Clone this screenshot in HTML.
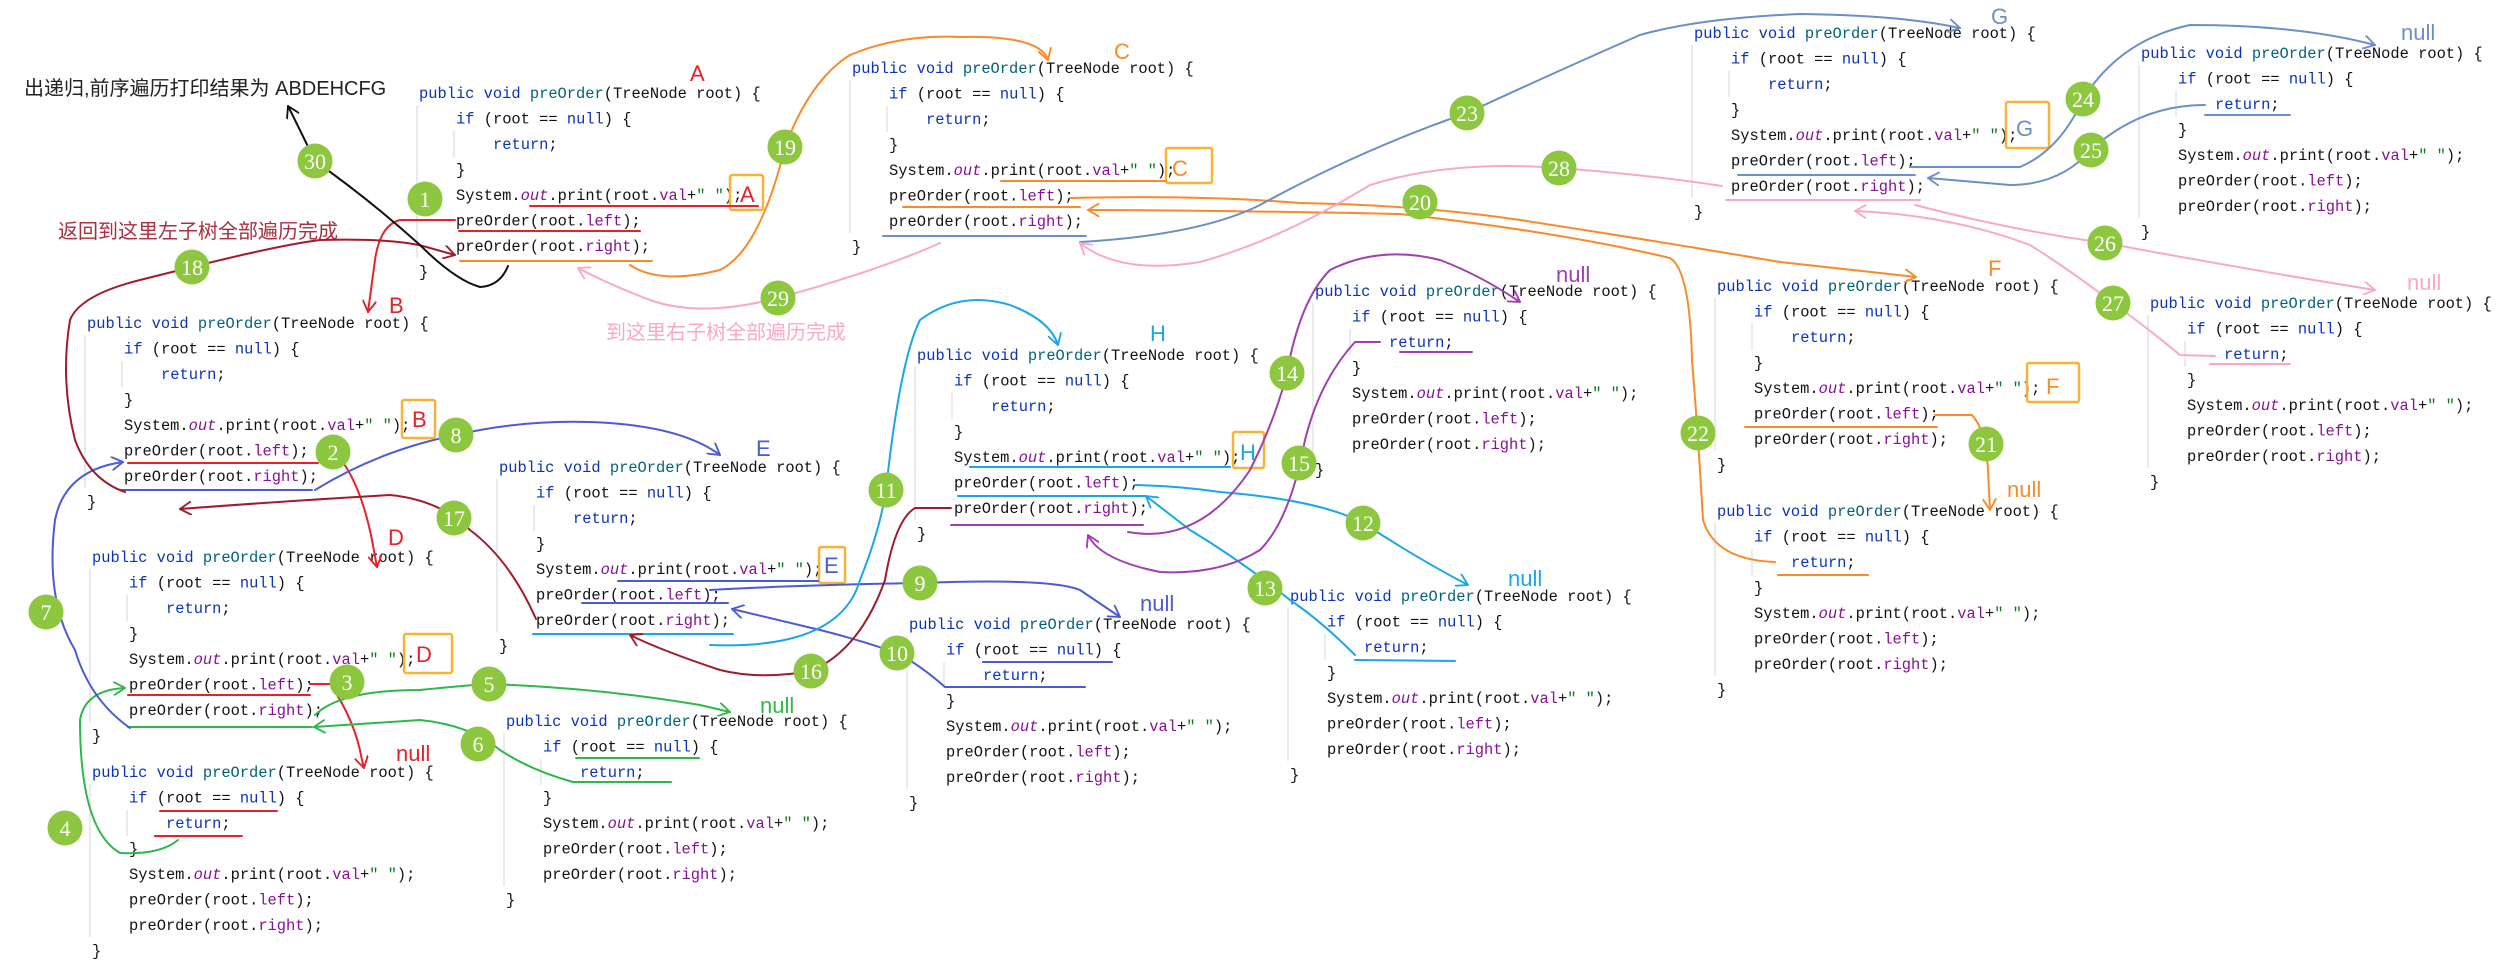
<!DOCTYPE html>
<html><head><meta charset="utf-8"><style>
html,body{margin:0;padding:0;background:#fff;}
svg{display:block;}
.c{font-family:"Liberation Mono",monospace;font-size:15.4px;fill:#111;}
.k{fill:#0b33b8;}.m{fill:#00627a;}.p{fill:#871094;}.o{fill:#871094;font-style:italic;}.g{fill:#067d17;}
.lb{font-family:"Liberation Sans",sans-serif;font-size:22px;}
.cj{font-family:"Liberation Sans","Noto Sans CJK SC",sans-serif;font-size:20px;}
.n{font-family:"Liberation Serif",serif;font-size:22px;fill:#fff;text-anchor:middle;}
.gd{stroke:#e4e4e4;stroke-width:1.5;}
path,polyline{fill:none;stroke-width:2;stroke-linecap:round;stroke-linejoin:round;}
</style></head><body>
<svg width="2510" height="969" viewBox="0 0 2510 969" xmlns="http://www.w3.org/2000/svg">
<defs>
<g id="blk">
<line class="gd" x1="-2" y1="12" x2="-2" y2="165"/>
<line class="gd" x1="35" y1="38" x2="35" y2="64"/>
<text class="c" y="5"><tspan class="k">public void </tspan><tspan class="m">preOrder</tspan>(TreeNode root) {</text>
<text class="c" x="37" y="30.5"><tspan class="k">if</tspan> (root == <tspan class="k">null</tspan>) {</text>
<text class="c" x="74" y="56"><tspan class="k">return</tspan>;</text>
<text class="c" x="37" y="81.5">}</text>
<text class="c" x="37" y="107">System.<tspan class="o">out</tspan>.print(root.<tspan class="p">val</tspan>+<tspan class="g">" "</tspan>);</text>
<text class="c" x="37" y="132.5">preOrder(root.<tspan class="p">left</tspan>);</text>
<text class="c" x="37" y="158">preOrder(root.<tspan class="p">right</tspan>);</text>
<text class="c" y="183.5">}</text>
</g>
<marker id="ar" viewBox="0 0 12 12" refX="10" refY="6" markerWidth="14" markerHeight="14" markerUnits="userSpaceOnUse" orient="auto"><path d="M0,0 L10,6 L0,12" stroke="context-stroke" style="stroke-width:1.6"/></marker>
</defs>

<use href="#blk" x="419" y="93"/>
<use href="#blk" x="87" y="323"/>
<use href="#blk" x="92" y="557"/>
<use href="#blk" x="92" y="772"/>
<use href="#blk" x="499" y="467"/>
<use href="#blk" x="506" y="721"/>
<use href="#blk" x="852" y="68"/>
<use href="#blk" x="917" y="355"/>
<use href="#blk" x="1315" y="291"/>
<use href="#blk" x="909" y="624"/>
<use href="#blk" x="1290" y="596"/>
<use href="#blk" x="1694" y="33"/>
<use href="#blk" x="2141" y="53"/>
<use href="#blk" x="1717" y="286"/>
<use href="#blk" x="2150" y="303"/>
<use href="#blk" x="1717" y="511"/>

<g fill="none" stroke="#f9b234" stroke-width="2.5">
<rect x="730" y="175" width="33" height="35" rx="2"/>
<rect x="402" y="400" width="33" height="38" rx="2"/>
<rect x="404" y="634" width="48" height="39" rx="2"/>
<rect x="819" y="547" width="26" height="36" rx="2"/>
<rect x="1166" y="148" width="46" height="35" rx="2"/>
<rect x="1233" y="432" width="31" height="36" rx="2"/>
<rect x="2006" y="102" width="43" height="46" rx="2"/>
<rect x="2027" y="363" width="52" height="39" rx="2"/>
</g>
<text class="lb" x="740" y="202" fill="#e8202a">A</text>
<text class="lb" x="412" y="427" fill="#e8202a">B</text>
<text class="lb" x="416" y="662" fill="#e8202a">D</text>
<text class="lb" x="824" y="573" fill="#4b5bd6">E</text>
<text class="lb" x="1172" y="176" fill="#f98a2a">C</text>
<text class="lb" x="1240" y="460" fill="#1aa7e8">H</text>
<text class="lb" x="2016" y="136" fill="#6b8fc8">G</text>
<text class="lb" x="2046" y="394" fill="#f98a2a">F</text>

<text class="lb" x="690" y="81" fill="#e8202a">A</text>
<text class="lb" x="389" y="313" fill="#e8202a">B</text>
<text class="lb" x="388" y="545" fill="#e8202a">D</text>
<text class="lb" x="396" y="761" fill="#e8202a">null</text>
<text class="lb" x="756" y="456" fill="#4b5bd6">E</text>
<text class="lb" x="760" y="713" fill="#2db84b">null</text>
<text class="lb" x="1114" y="59" fill="#f98a2a">C</text>
<text class="lb" x="1150" y="341" fill="#1aa7e8">H</text>
<text class="lb" x="1556" y="282" fill="#a040b0">null</text>
<text class="lb" x="1140" y="611" fill="#4b5bd6">null</text>
<text class="lb" x="1508" y="586" fill="#1aa7e8">null</text>
<text class="lb" x="1991" y="24" fill="#6b8fc8">G</text>
<text class="lb" x="2401" y="40" fill="#6b8fc8">null</text>
<text class="lb" x="1988" y="276" fill="#f98a2a">F</text>
<text class="lb" x="2407" y="290" fill="#f9a8c8">null</text>
<text class="lb" x="2007" y="497" fill="#f98a2a">null</text>
<text class="cj" x="24" y="95" fill="#222">出递归,前序遍历打印结果为 ABDEHCFG</text>
<text class="cj" x="58" y="238" fill="#a83040">返回到这里左子树全部遍历完成</text>
<text class="cj" x="606" y="339" fill="#f9a8c8">到这里右子树全部遍历完成</text>

<g stroke="#e8202a">
<path d="M530,206 L758,206"/><path d="M459,231 L640,231"/>
<path d="M455,220 L400,220 Q380,225 375,260 L368,312" marker-end="url(#ar)"/>
<path d="M128,463 L318,463"/>
<path d="M318,452 L335,452 Q360,480 372,540 L377,567" marker-end="url(#ar)"/>
<path d="M128,695 L310,695"/>
<path d="M310,684 L330,684 Q355,720 362,760 L364,768" marker-end="url(#ar)"/>
<path d="M160,811 L277,811"/><path d="M155,836 L242,836"/>
</g>
<g stroke="#2db84b">
<path d="M178,840 Q160,855 120,853 Q80,830 80,720 Q85,690 125,688" marker-end="url(#ar)"/>
<path d="M315,715 Q340,690 420,690 Q470,685 489,684 Q600,688 700,705 L730,712" marker-end="url(#ar)"/>
<path d="M573,782 Q530,770 500,750 Q470,725 420,720 L314,727" marker-end="url(#ar)"/>
<path d="M128,727 L312,727"/>
<path d="M576,758 L699,758"/>
<path d="M573,782 L671,782"/>
</g>
<g stroke="#4b5bd6">
<path d="M120,490 L312,490"/>
<path d="M130,728 Q90,700 75,650 Q45,600 55,520 Q65,470 123,462" marker-end="url(#ar)"/>
<path d="M315,490 Q380,450 456,435 Q520,420 590,422 Q680,425 720,455" marker-end="url(#ar)"/>
<path d="M618,581 L818,581"/><path d="M582,603 L728,603"/>
<path d="M710,590 Q800,585 920,583 Q1050,578 1080,590 L1120,617" marker-end="url(#ar)"/>
<path d="M972,687 L945,687 Q920,665 897,653 Q860,640 820,630 L732,609" marker-end="url(#ar)"/>
<path d="M983,662 L1112,662"/><path d="M972,687 L1085,687"/>
</g>
<g stroke="#1aa7e8">
<path d="M533,634 L733,634"/>
<path d="M710,645 Q840,650 860,580 Q880,530 886,490 Q900,360 920,320 Q960,290 1010,305 Q1050,320 1058,345" marker-end="url(#ar)"/>
<path d="M970,467 L1230,467"/><path d="M958,496 L1145,496"/>
<path d="M1135,485 Q1180,486 1220,492 Q1320,500 1363,523 Q1420,560 1468,585" marker-end="url(#ar)"/>
<path d="M1355,660 L1455,661"/>
<path d="M1355,655 Q1320,620 1290,600 Q1240,560 1190,530 L1146,496" marker-end="url(#ar)"/>
</g>
<g stroke="#a040b0">
<path d="M951,525 L1143,525"/>
<path d="M1128,532 Q1200,545 1250,470 Q1275,420 1287,373 Q1300,300 1330,270 Q1380,245 1440,260 Q1480,275 1520,302" marker-end="url(#ar)"/>
<path d="M1400,352 L1472,352"/>
<path d="M1380,342 L1355,342 Q1320,380 1305,440 Q1290,520 1260,550 Q1220,575 1160,572 Q1100,560 1088,535" marker-end="url(#ar)"/>
</g>
<g stroke="#a01c2c">
<path d="M951,508 L915,508 Q895,520 885,580 Q860,650 811,671 Q760,680 720,670 Q660,650 630,635" marker-end="url(#ar)"/>
<path d="M536,619 Q510,560 470,530 Q440,500 390,495 Q300,500 180,509" marker-end="url(#ar)"/>
<path d="M125,492 Q90,480 75,440 Q60,380 70,320 Q80,295 140,280 L192,267 Q280,245 320,240 Q400,238 430,248 L455,255" marker-end="url(#ar)"/>
</g>
<g stroke="#f98a2a">
<path d="M460,261 L652,261"/>
<path d="M630,265 Q660,285 720,270 Q760,250 785,147 Q810,80 850,55 Q900,34 960,37 Q1040,35 1048,60" marker-end="url(#ar)"/>
<path d="M1001,181 L1166,181"/><path d="M903,207 L1080,207"/>
<path d="M1070,198 Q1200,195 1300,203 Q1420,205 1520,220 Q1650,240 1780,262 L1916,277" marker-end="url(#ar)"/>
<path d="M1400,214 Q1200,210 1088,210" marker-end="url(#ar)"/>
<path d="M1400,214 Q1560,232 1670,258 Q1690,270 1692,360 Q1698,433 1703,520 Q1715,560 1775,562"/>
<path d="M1745,427 L1937,427"/>
<path d="M1935,415 L1972,415 Q1986,430 1988,470 L1990,510" marker-end="url(#ar)"/>
<path d="M1778,575 L1868,575"/>
</g>
<g stroke="#6b8fc8">
<path d="M883,236 L1086,236"/>
<path d="M1080,242 Q1200,235 1260,205 Q1360,150 1467,113 Q1560,70 1640,35 Q1700,18 1800,14 Q1900,15 1960,28" marker-end="url(#ar)"/>
<path d="M1738,175 L1915,175"/>
<path d="M1910,167 L2020,167 Q2060,150 2083,99 Q2120,40 2190,25 Q2300,25 2375,45" marker-end="url(#ar)"/>
<path d="M2205,105 Q2140,105 2091,150 Q2060,185 2010,185 L1928,178" marker-end="url(#ar)"/>
<path d="M2205,115 L2290,115"/>
</g>
<g stroke="#f9a8c8">
<path d="M1726,200 L1920,200"/>
<path d="M1915,205 Q2010,230 2105,243 Q2250,270 2375,290" marker-end="url(#ar)"/>
<path d="M2215,356 L2180,355 Q2150,330 2113,303 Q2070,270 2030,245 Q1950,215 1855,211" marker-end="url(#ar)"/>
<path d="M2210,364 L2290,364"/>
<path d="M1722,186 Q1650,175 1559,168 Q1450,160 1370,185 Q1280,240 1200,262 Q1120,275 1080,243" marker-end="url(#ar)"/>
<path d="M940,243 Q880,270 778,298 Q700,318 650,300 Q610,285 578,268" marker-end="url(#ar)"/>
</g>
<path stroke="#111" d="M508,266 Q500,286 480,287 Q455,280 420,245 Q370,200 315,161 Q300,130 288,106" marker-end="url(#ar)"/>

<g fill="#8dc63f">
<circle cx="425" cy="199" r="17.5"/><circle cx="333" cy="452" r="17.5"/><circle cx="347" cy="682" r="17.5"/>
<circle cx="65" cy="828" r="17.5"/><circle cx="489" cy="684" r="17.5"/><circle cx="478" cy="744" r="17.5"/>
<circle cx="46" cy="612" r="17.5"/><circle cx="456" cy="435" r="17.5"/><circle cx="920" cy="583" r="17.5"/>
<circle cx="897" cy="653" r="17.5"/><circle cx="886" cy="490" r="17.5"/><circle cx="1363" cy="523" r="17.5"/>
<circle cx="1265" cy="588" r="17.5"/><circle cx="1287" cy="373" r="17.5"/><circle cx="1299" cy="463" r="17.5"/>
<circle cx="811" cy="671" r="17.5"/><circle cx="454" cy="518" r="17.5"/><circle cx="192" cy="267" r="17.5"/>
<circle cx="785" cy="147" r="17.5"/><circle cx="1420" cy="202" r="17.5"/><circle cx="1986" cy="444" r="17.5"/>
<circle cx="1698" cy="433" r="17.5"/><circle cx="1467" cy="113" r="17.5"/><circle cx="2083" cy="99" r="17.5"/>
<circle cx="2091" cy="150" r="17.5"/><circle cx="2105" cy="243" r="17.5"/><circle cx="2113" cy="303" r="17.5"/>
<circle cx="1559" cy="168" r="17.5"/><circle cx="778" cy="298" r="17.5"/><circle cx="315" cy="161" r="17.5"/>
</g>
<g class="n">
<text x="425" y="207">1</text><text x="333" y="460">2</text><text x="347" y="690">3</text>
<text x="65" y="836">4</text><text x="489" y="692">5</text><text x="478" y="752">6</text>
<text x="46" y="620">7</text><text x="456" y="443">8</text><text x="920" y="591">9</text>
<text x="897" y="661">10</text><text x="886" y="498">11</text><text x="1363" y="531">12</text>
<text x="1265" y="596">13</text><text x="1287" y="381">14</text><text x="1299" y="471">15</text>
<text x="811" y="679">16</text><text x="454" y="526">17</text><text x="192" y="275">18</text>
<text x="785" y="155">19</text><text x="1420" y="210">20</text><text x="1986" y="452">21</text>
<text x="1698" y="441">22</text><text x="1467" y="121">23</text><text x="2083" y="107">24</text>
<text x="2091" y="158">25</text><text x="2105" y="251">26</text><text x="2113" y="311">27</text>
<text x="1559" y="176">28</text><text x="778" y="306">29</text><text x="315" y="169">30</text>
</g>
</svg>
</body></html>
